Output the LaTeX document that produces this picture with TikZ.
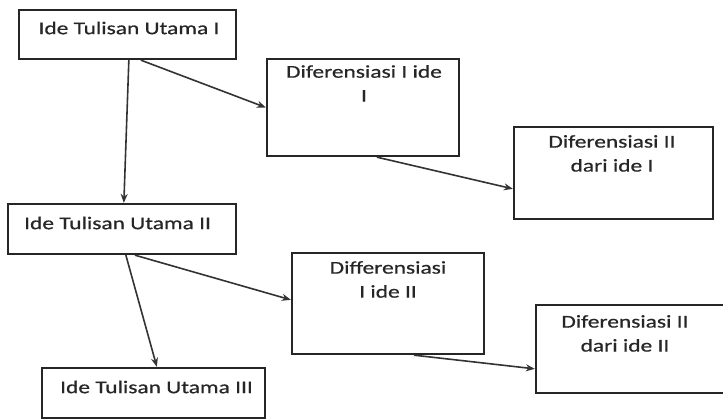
\documentclass[tikz,border=0pt]{standalone}
\usepackage{fontspec}
\setmainfont{Carlito}[FakeStretch=1.3,FakeBold=0.6]
\usetikzlibrary{arrows.meta}
\begin{document}
\begin{tikzpicture}[x=1pt,y=-1pt,
  box/.style={draw=black!85,line width=2.3pt,inner sep=0pt},
  txt/.style={inner sep=0pt,align=center,font=\fontsize{18}{24}\selectfont,text=black!85},
  link/.style={draw=black!80,line width=1.6pt,-{Stealth[length=9pt,width=7pt]}}]
\useasboundingbox (0,0) rectangle (723,419);

% boxes
\node[box,minimum width=217pt,minimum height=49pt]  (u1) at (127.5,34.5) {};
\node[box,minimum width=192pt,minimum height=97pt]  (d1) at (363,107.5) {};
\node[box,minimum width=199pt,minimum height=92pt]  (e1) at (613.5,173) {};
\node[box,minimum width=228pt,minimum height=50pt]  (u2) at (122,229) {};
\node[box,minimum width=192pt,minimum height=101pt] (d2) at (388,303.5) {};
\node[box,minimum width=192pt,minimum height=88pt]  (e2) at (632,349) {};
\node[box,minimum width=223pt,minimum height=50pt]  (u3) at (153.5,393) {};

% labels
\node[txt] (u1t) at (129,28) {Ide Tulisan Utama I};
\node[txt,anchor=north] (d1t) at (364,65) {Diferensiasi I ide\\I};
\node[txt,anchor=north] (e1t) at (612,135) {Diferensiasi II\\dari ide I};
\node[txt,anchor=west] (u2t) at (24,223) {Ide Tulisan Utama II};
\node[txt,anchor=north] (d2t) at (388,261) {Differensiasi\\I ide II};
\node[txt,anchor=north] (e2t) at (625,315) {Diferensiasi II\\dari ide II};
\node[txt,anchor=west] (u3t) at (60,387) {Ide Tulisan Utama III};

% connectors
\draw[link] ([xshift=111pt]u1.south west) -- ([xshift=117pt]u2.north west);
\draw[link] ([xshift=123pt]u1.south west) -- (d1.west);
\draw[link] ([xshift=111pt]d1.south west) -- ([yshift=-63pt]e1.north west);
\draw[link] ([xshift=119pt]u2.south west) -- ([xshift=116pt]u3.north west);
\draw[link] ([xshift=128pt]u2.south west) -- ([yshift=-48pt]d2.north west);
\draw[link] ([xshift=123pt]d2.south west) -- ([yshift=-65pt]e2.north west);
\end{tikzpicture}
\end{document}
